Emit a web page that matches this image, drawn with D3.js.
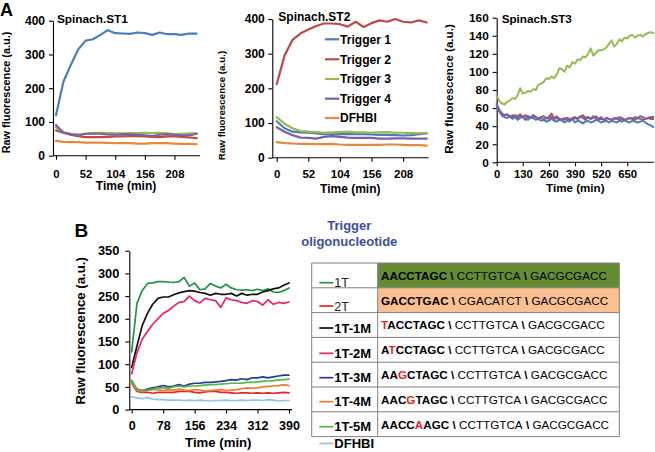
<!DOCTYPE html>
<html><head><meta charset="utf-8">
<script src="https://cdn.jsdelivr.net/npm/d3@7"></script>
<style>
body{margin:0;background:#fff}
svg{display:block}
text{font-family:"Liberation Sans",Arial,Helvetica,sans-serif}
</style>
</head><body>
<svg id="c" width="655" height="452"></svg>
<script>
// ---------------- DATA ----------------
const timeA12 = [0,13,26,39,52,65,78,91,104,117,130,143,156,169,182,195,208,221,234,247];
const timeA3 = [0,13,26,39,52,65,78,91,104,117,130,143,156,169,182,195,208,221,234,247,260,273,286,299,312,325,338,351,364,377,390,403,416,429,442,455,468,481,494,507,520,533,546,559,572,585,598,611,624,637,650,663,676,689,702,715,728,741,754,767,780];
const timeB = [0,13,26,39,52,65,78,91,104,117,130,143,156,169,182,195,208,221,234,247,260,273,286,299,312,325,338,351,364,377,390];

const seriesNamesA = ["Trigger 1","Trigger 2","Trigger 3","Trigger 4","DFHBI"];
const colorsA = ["#4a7ebb","#be4b48","#98b954","#7d60a0","#e8883a"];

const st1_t1 = [120,219,269,315,341,345,358,372,363,362,361,365,363,358,365,360,360,358,362,362];
const st1_t2 = [75,68,62,58,55,55,55,56,57,57,58,58,57,56,55,57,58,56,54,52];
const st1_t3 = [85,70,65,63,65,66,68,68,66,66,67,67,68,67,68,66,64,65,66,66];
const st1_t4 = [91,68,63,60,65,66,65,63,62,64,63,62,60,58,62,64,62,60,60,65];
const st1_d  = [44,41,40,40,39,39,39,38,37,37,37,36,36,37,37,37,36,35,35,34];

const st2_t1 = [105,85,75,73,72,70,68,67,68,68,68,68,67,66,66,65,64,65,68,70];
const st2_t2 = [212,295,340,358,370,380,387,387,385,378,392,377,388,396,392,400,392,390,396,390];
const st2_t3 = [117,98,85,77,75,74,72,73,74,75,73,73,72,73,74,72,72,71,71,71];
const st2_t4 = [88,75,65,58,57,55,60,62,60,58,57,57,57,55,55,56,56,55,55,55];
const st2_d  = [45,42,41,40,40,39,39,40,38,37,37,37,37,37,38,38,37,36,36,35];

const st3_t1 = [63,56,52,50,49,51,48,50,47,49,
  51,48,47,50,49,47,48,46,47,45,
  46,48,46,45,47,46,44,46,45,48,
  44,46,45,43,45,46,44,45,47,46,
  44,45,46,44,46,45,44,46,45,47,
  45,44,46,45,44,45,46,44,42,41,
  39];
const st3_t2 = [62,57,54,52,53,51,50,52,51,53,
  50,52,51,49,52,50,48,50,51,49,
  50,54,48,49,47,48,47,49,48,47,
  49,48,50,52,49,50,48,51,49,47,
  48,47,49,48,47,48,49,47,48,46,
  48,49,48,47,49,48,47,48,49,48,
  48];
const st3_t3 = [74,68,65,64,67,68,71,70,74,82,
  76,77,79,78,81,80,86,87,89,93,
  92,95,93,97,104,103,100,107,105,111,
  109,114,113,117,116,120,126,118,121,124,
  124,125,127,131,135,128,131,136,134,138,
  137,140,141,138,140,141,139,142,143,144,
  143];
const st3_t4 = [65,58,54,52,53,50,52,51,49,52,
  50,47,51,49,52,50,48,50,47,49,
  48,50,49,51,48,47,49,48,47,49,
  50,48,51,49,47,50,48,49,51,48,
  50,47,49,48,47,49,48,50,49,47,
  48,49,48,50,49,51,50,48,49,50,
  50];

const yTicksA12 = [0,100,200,300,400];
const xTicksA12 = [0,52,104,156,208];
const yTicksA3 = [0,20,40,60,80,100,120,140,160];
const xTicksA3 = [0,130,260,390,520,650];
const yTicksB = [0,50,100,150,200,250,300,350];
const xTicksB = [0,78,156,234,312,390];

const namesB = ["1T","2T","1T-1M","1T-2M","1T-3M","1T-4M","1T-5M","DFHBI"];
const colorsB = ["#239345","#e8232b","#111111","#e6246f","#2b3990","#f07b2a","#4fb848","#8cc6e6"];
const b_1T  = [127,234,262,278,279,282,282,281,280,282,291,272,279,264,266,278,272,268,276,268,264,263,264,262,265,262,266,259,258,262,268];
const b_2T  = [58,40,38,38,36,38,38,38,38,40,40,40,38,37,39,40,40,38,38,37,36,37,37,36,37,36,37,36,37,38,37];
const b_1M  = [93,140,185,212,232,245,248,248,253,257,260,262,261,258,256,252,256,254,254,256,250,256,252,254,254,259,262,266,268,274,279];
const b_2M  = [79,125,155,172,188,200,212,218,228,236,238,250,240,235,245,242,240,225,246,242,240,236,234,240,238,230,242,232,236,234,237];
const b_3M  = [62,45,42,45,48,50,53,50,52,55,52,56,58,58,60,60,61,62,64,66,65,68,66,70,70,72,70,72,74,76,76];
const b_4M  = [60,42,40,42,44,44,42,44,43,45,43,42,44,43,41,42,43,44,42,43,44,46,48,47,48,50,51,52,53,55,53];
const b_5M  = [65,45,42,43,45,48,48,47,50,52,50,52,52,53,54,55,55,56,57,58,58,58,60,60,61,62,63,64,65,66,67];
const b_D   = [28,26,24,27,23,22,22,21,21,21,20,21,20,21,20,19,20,20,21,20,20,21,20,21,21,20,22,21,19,20,20];

const seqPrefix = ["AACCTAGC","GACCTGAC","TACCTAGC","ATCCTAGC","AAGCTAGC","AACGTAGC","AACCAAGC"];
const seqMid = ["CCTTGTCA","CGACATCT","CCTTGTCA","CCTTGTCA","CCTTGTCA","CCTTGTCA","CCTTGTCA"];
const seqEnd = ["GACGCGACC","GACGCGACC","GACGCGACC","GACGCGACC","GACGCGACC","GACGCGACC","GACGCGACC"];
const mutPos = [-1,-1,0,1,2,3,4];
const rowFill = ["#648c32","#fac091","#ffffff","#ffffff","#ffffff","#ffffff","#ffffff"];

// ---------------- DRAW ----------------
const svg = d3.select("#c");
svg.append("rect").attr("width",655).attr("height",452).attr("fill","#fff");

function panel(p) {
  const g = svg.append("g");
  const x = d3.scaleLinear().domain([0, p.tRef]).range([p.x0, p.x1]);
  const y = d3.scaleLinear().domain([0, p.yMax]).range([p.yBot, p.yTop]);

  const ya = d3.axisLeft(y).tickValues(p.yTicks).tickSize(4).tickSizeOuter(0).tickPadding(p.yPad);
  const yg = g.append("g").attr("transform", `translate(${p.axisX},0)`).call(ya);
  yg.selectAll("text").attr("font-size", p.tickFont).attr("font-weight","bold").attr("fill","#000")
    .attr("font-family",'"Liberation Sans",Arial,sans-serif');
  yg.selectAll("line,path").attr("stroke","#000").attr("stroke-width",1.1);

  const xFont = p.xTickFont || p.tickFont;
  const xPad = p.xBase - p.yBot - 4 - 0.71 * xFont;
  const xa = d3.axisBottom(x).tickValues(p.xTicks).tickSize(4).tickSizeOuter(0).tickPadding(xPad);
  const xg = g.append("g").attr("transform", `translate(0,${p.yBot})`).call(xa);
  xg.select(".domain").remove();
  xg.selectAll("text").attr("font-size", xFont).attr("font-weight","bold").attr("fill","#000")
    .attr("font-family",'"Liberation Sans",Arial,sans-serif');
  xg.selectAll("line").attr("stroke","#000").attr("stroke-width",1.1);
  g.append("line").attr("x1",p.axisX).attr("x2",p.xEnd).attr("y1",p.yBot).attr("y2",p.yBot)
    .attr("stroke","#000").attr("stroke-width",1.1);

  const line = d3.line().x((d,i)=>x(p.times[i])).y(d=>y(d));
  p.series.forEach(s => {
    g.append("path").datum(s.v).attr("d", line).attr("fill","none")
      .attr("stroke", s.c).attr("stroke-width", p.lw).attr("stroke-linejoin","round").attr("stroke-linecap","round");
  });

  g.append("text").attr("x", p.xtX).attr("y", p.xtY).attr("text-anchor","middle")
    .attr("font-size", p.xtFont).attr("font-weight","bold").text("Time (min)");
  g.append("text").attr("transform", `translate(${p.ytX},${p.ytY}) rotate(-90)`).attr("text-anchor","middle")
    .attr("font-size", p.ytFont).attr("font-weight","bold").text("Raw fluorescence (a.u.)");
  if (p.title) {
    g.append("text").attr("x", p.tX).attr("y", p.tY).attr("font-size", p.tFont).attr("font-weight","bold").text(p.title);
  }
  return {x, y};
}

// Panel A1
panel({axisX:53, yTop:20.7, yBot:155.7, yMax:400, yTicks:yTicksA12, yPad:4, tickFont:12, xTickFont:11.3,
  tRef:247, x0:56, x1:196.7, xEnd:200, xTicks:xTicksA12, xBase:178, times:timeA12, lw:2.2,
  series:[{v:st1_t1,c:colorsA[0]},{v:st1_t2,c:colorsA[1]},{v:st1_t3,c:colorsA[2]},{v:st1_t4,c:colorsA[3]},{v:st1_d,c:colorsA[4]}],
  xtX:126, xtY:189.5, xtFont:12, ytX:9.8, ytY:92.5, ytFont:10.9,
  title:"Spinach.ST1", tX:57, tY:23.3, tFont:11.8});

// Panel A2
panel({axisX:272.3, yTop:19, yBot:157.7, yMax:400, yTicks:yTicksA12, yPad:3.5, tickFont:12, xTickFont:11.5,
  tRef:247, x0:276.7, x1:426.8, xEnd:428.5, xTicks:xTicksA12, xBase:178, times:timeA12, lw:2.2,
  series:[{v:st2_t1,c:colorsA[0]},{v:st2_t2,c:colorsA[1]},{v:st2_t3,c:colorsA[2]},{v:st2_t4,c:colorsA[3]},{v:st2_d,c:colorsA[4]}],
  xtX:350.3, xtY:193, xtFont:12, ytX:225, ytY:105.5, ytFont:9.8,
  title:"Spinach.ST2", tX:278.3, tY:21, tFont:12});

// Panel A3
panel({axisX:496.7, yTop:17.7, yBot:162.3, yMax:160, yTicks:yTicksA3, yPad:4, tickFont:11.8, xTickFont:11.3,
  tRef:780, x0:496.7, x1:653.3, xEnd:654, xTicks:xTicksA3, xBase:178.3, times:timeA3, lw:2,
  series:[{v:st3_t3,c:colorsA[2]},{v:st3_t2,c:colorsA[1]},{v:st3_t1,c:colorsA[0]},{v:st3_t4,c:colorsA[3]}],
  xtX:575.3, xtY:192, xtFont:11.6, ytX:453.3, ytY:89, ytFont:11.6,
  title:"Spinach.ST3", tX:501.7, tY:23.3, tFont:11.7});

// Panel B
panel({axisX:129.3, yTop:250.7, yBot:409.6, yMax:350, yTicks:yTicksB, yPad:6, tickFont:12.8, xTickFont:12.5,
  tRef:390, x0:131.7, x1:289, xEnd:292, xTicks:xTicksB, xBase:430, times:timeB, lw:1.7,
  series:[{v:b_1T,c:colorsB[0]},{v:b_2T,c:colorsB[1]},{v:b_1M,c:colorsB[2]},{v:b_2M,c:colorsB[3]},
          {v:b_3M,c:colorsB[4]},{v:b_4M,c:colorsB[5]},{v:b_5M,c:colorsB[6]},{v:b_D,c:colorsB[7]}],
  xtX:218.3, xtY:447, xtFont:13.2, ytX:85.3, ytY:330.8, ytFont:13.2, title:null});

// Panel letters
svg.append("text").attr("x",0).attr("y",15.5).attr("font-size",18).attr("font-weight","bold").text("A");
svg.append("text").attr("x",74.5).attr("y",236.7).attr("font-size",19).attr("font-weight","bold").text("B");

// Legend for A (in panel A2)
const legA = svg.append("g");
const legAY = [39.3,59.3,79,98.7,118];
seriesNamesA.forEach((n,i)=>{
  legA.append("line").attr("x1",325).attr("x2",339.3).attr("y1",legAY[i]).attr("y2",legAY[i])
    .attr("stroke",colorsA[i]).attr("stroke-width",2.2);
  legA.append("text").attr("x",340).attr("y",legAY[i]+4.3).attr("font-size",12.1).attr("font-weight","bold").text(n);
});

// Table
const tX0 = 311.7, tX1 = 619.3, tDiv = 377.7, tTop = 263, rowH = 24.8;
const tbl = svg.append("g");
tbl.append("text").attr("x",349.3).attr("y",230).attr("text-anchor","middle").attr("font-size",13)
  .attr("font-weight","bold").attr("fill","#3c4ea0").text("Trigger");
tbl.append("text").attr("x",349.3).attr("y",246).attr("text-anchor","middle").attr("font-size",13)
  .attr("font-weight","bold").attr("fill","#3c4ea0").text("oligonucleotide");

seqPrefix.forEach((pre,i)=>{
  const ry = tTop + i*rowH;
  tbl.append("rect").attr("x",tDiv).attr("y",ry).attr("width",tX1-tDiv).attr("height",rowH)
    .attr("fill",rowFill[i]);
  const t = tbl.append("text").attr("x",381).attr("y",ry+rowH/2+4.3).attr("font-size",11.7).attr("fill","#000");
  pre.split("").forEach((ch,k)=>{
    t.append("tspan").attr("font-weight","bold").attr("fill", k===mutPos[i] ? "#e8262a" : "#000").text(ch);
  });
  t.append("tspan").attr("font-weight","bold").text(" \\ ");
  t.append("tspan").text(seqMid[i]);
  t.append("tspan").attr("font-weight","bold").text(" \\ ");
  t.append("tspan").text(seqEnd[i]);
});
for (let i=0;i<=seqPrefix.length;i++){
  const ry = tTop + i*rowH;
  tbl.append("line").attr("x1",tX0).attr("x2",tX1).attr("y1",ry).attr("y2",ry).attr("stroke","#808080").attr("stroke-width",1);
}
[tX0,tDiv,tX1].forEach(xx=>{
  tbl.append("line").attr("x1",xx).attr("x2",xx).attr("y1",tTop).attr("y2",tTop+rowH*seqPrefix.length)
    .attr("stroke","#808080").attr("stroke-width",1);
});

// Legend for B (in table left column)
const legBY = [282.7,306,328,353.3,377.7,401.7,426.7,443.5];
namesB.forEach((n,i)=>{
  tbl.append("line").attr("x1",319.3).attr("x2",333.3).attr("y1",legBY[i]).attr("y2",legBY[i])
    .attr("stroke",colorsB[i]).attr("stroke-width",1.7);
  tbl.append("text").attr("x",334.3).attr("y",legBY[i]+4.6).attr("font-size",i<2?12.5:13)
    .attr("font-weight", i<2 ? "normal" : "bold").attr("fill", i<2 ? "#222" : "#000").text(n);
});
</script>
</body></html>
